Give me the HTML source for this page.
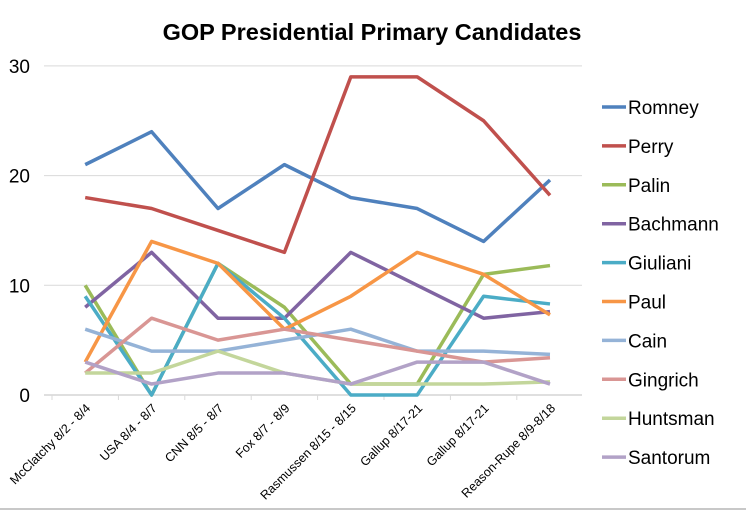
<!DOCTYPE html>
<html><head><meta charset="utf-8"><style>
html,body{margin:0;padding:0;background:#fff;}
svg{display:block;font-family:"Liberation Sans",sans-serif;}
</style></head><body>
<svg id="chart" width="746" height="512">
<rect x="0" y="0" width="746" height="508" fill="#fff"/>
<line x1="0" y1="509" x2="746" y2="509" stroke="#c8c8c8" stroke-width="2"/>
<text x="372" y="40" text-anchor="middle" font-size="23.5" font-weight="bold" fill="#000">GOP Presidential Primary Candidates</text>
<g id="grid"></g><g id="xlabels"></g><g id="series"></g><g id="legend"></g>
</svg>
<script>
const categories=["McClatchy 8/2 - 8/4","USA 8/4 - 8/7","CNN 8/5 - 8/7","Fox 8/7 - 8/9","Rasmussen 8/15 - 8/15","Gallup 8/17-21","Gallup 8/17-21","Reason-Rupe 8/9-8/18"];
const yTicks=[0,10,20,30];
const names=["Romney","Perry","Palin","Bachmann","Giuliani","Paul","Cain","Gingrich","Huntsman","Santorum"];
const romney=[21,24,17,21,18,17,14,19.6];
const perry=[18,17,15,13,29,29,25,18.2];
const palin=[10,0,12,8,1,1,11,11.8];
const bachmann=[8,13,7,7,13,10,7,7.6];
const giuliani=[9,0,12,7,0,0,9,8.3];
const paul=[3,14,12,6,9,13,11,7.3];
const cain=[6,4,4,5,6,4,4,3.7];
const gingrich=[2,7,5,6,5,4,3,3.4];
const huntsman=[2,2,4,2,1,1,1,1.2];
const santorum=[3,1,2,2,1,3,3,1.0];
const seriesData=[romney,perry,palin,bachmann,giuliani,paul,cain,gingrich,huntsman,santorum];
const colors=["#4f81bd","#c0504d","#9bbb59","#8064a2","#4bacc6","#f79646","#95b3d7","#d99694","#c3d69b","#b2a2c7"];
const NS="http://www.w3.org/2000/svg";
const x0=52,step=66.4,yZero=395,yPer=10.97;
function xPos(i){return x0+step*(i+0.5);}
function yPos(v){return yZero-v*yPer;}
const grid=document.getElementById('grid');
yTicks.forEach(t=>{
 const l=document.createElementNS(NS,'line');
 l.setAttribute('x1',44);l.setAttribute('x2',582);
 l.setAttribute('y1',yPos(t));l.setAttribute('y2',yPos(t));
 l.setAttribute('stroke','#d9d9d9');l.setAttribute('stroke-width',1);
 
 
 grid.appendChild(l);
 const tx=document.createElementNS(NS,'text');
 tx.setAttribute('x',30);tx.setAttribute('y',yPos(t)+7);
 tx.setAttribute('text-anchor','end');tx.setAttribute('font-size',19);
 tx.textContent=t;
 
 
 grid.appendChild(tx);
});
const ax=document.createElementNS(NS,'line');
ax.setAttribute('x1',44);ax.setAttribute('x2',582);ax.setAttribute('y1',yZero);ax.setAttribute('y2',yZero);
ax.setAttribute('stroke','#bfbfbf');


grid.appendChild(ax);
const xl=document.getElementById('xlabels');
categories.forEach((c,i)=>{
 const tk=document.createElementNS(NS,'line');
 tk.setAttribute('x1',x0+step*i);tk.setAttribute('x2',x0+step*i);tk.setAttribute('y1',yZero);tk.setAttribute('y2',yZero+5);
 tk.setAttribute('stroke','#d9d9d9');
 
 
 xl.appendChild(tk);
 const t=document.createElementNS(NS,'text');
 const x=xPos(i)+6,y=yZero+14;
 t.setAttribute('x',x);t.setAttribute('y',y);
 t.setAttribute('text-anchor','end');t.setAttribute('font-size',12.5);
 t.setAttribute('transform','rotate(-45 '+x+' '+y+')');
 t.textContent=c;
 
 
 xl.appendChild(t);
});
const sg=document.getElementById('series');
seriesData.forEach((d,s)=>{
 const p=document.createElementNS(NS,'polyline');
 p.setAttribute('points',d.map((v,i)=>xPos(i)+','+yPos(v)).join(' '));
 p.setAttribute('fill','none');p.setAttribute('stroke',colors[s]);p.setAttribute('stroke-width',3.5);
 p.setAttribute('stroke-linejoin','round');
 
 
 sg.appendChild(p);
});
const lg=document.getElementById('legend');
names.forEach((n,s)=>{
 const y=107+38.9*s;
 const l=document.createElementNS(NS,'line');
 l.setAttribute('x1',602);l.setAttribute('x2',626);l.setAttribute('y1',y);l.setAttribute('y2',y);
 l.setAttribute('stroke',colors[s]);l.setAttribute('stroke-width',3.5);
 
 
 lg.appendChild(l);
 const t=document.createElementNS(NS,'text');
 t.setAttribute('x',628);t.setAttribute('y',y+7);t.setAttribute('font-size',19);
 t.textContent=n;
 
 
 lg.appendChild(t);
});
</script>
</body></html>
